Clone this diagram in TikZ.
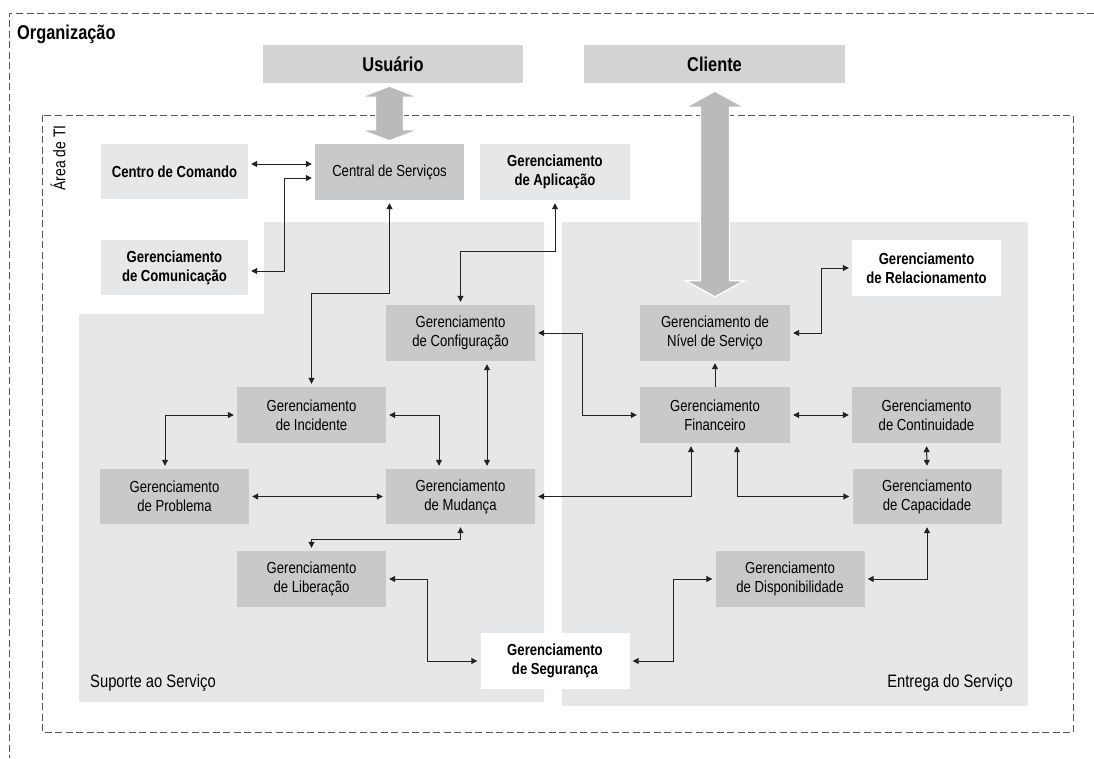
\documentclass[tikz,border=0pt]{standalone}
\usepackage{fontspec}
\setmainfont{Liberation Sans}[FakeStretch=0.82]
\usetikzlibrary{arrows.meta,calc}

\definecolor{regiongray}{HTML}{E6E7E8}
\definecolor{boxdark}{HTML}{C8C9CB}
\definecolor{boxlight}{HTML}{E6E7E8}
\definecolor{titlegray}{HTML}{D1D3D4}
\definecolor{arrowgray}{HTML}{B9BABC}
\definecolor{linegray}{HTML}{222222}
\definecolor{dashgray}{HTML}{555555}

\tikzset{
  box/.style={rectangle, minimum width=149pt, minimum height=56pt, inner sep=0pt,
    align=center, font=\fontsize{16}{19}\selectfont},
  darkbox/.style={box, fill=boxdark},
  lightbox/.style={box, fill=boxlight, font=\fontsize{16}{19}\selectfont\bfseries},
  whitebox/.style={box, fill=white, font=\fontsize{16}{19}\selectfont\bfseries},
  titlebox/.style={rectangle, fill=titlegray, minimum width=260pt, minimum height=38pt,
    inner sep=0pt, font=\fontsize{20}{24}\selectfont\bfseries},
  frame/.style={draw=dashgray, line width=1pt, dash pattern=on 7pt off 3.5pt},
  region/.style={fill=regiongray},
  dbl/.style={draw=linegray, line width=1pt,
    {Triangle[length=6pt,width=6pt]}-{Triangle[length=6pt,width=6pt]},
    shorten <=3pt, shorten >=3pt},
  arr/.style={draw=linegray, line width=1pt, -{Triangle[length=6pt,width=6pt]}, shorten >=2pt},
  bigarrow/.style={fill=arrowgray, draw=white, line width=1.2pt, line join=miter},
  areatext/.style={font=\fontsize{18}{22}\selectfont, inner sep=0pt},
}

% broad two-headed arrow: top tip, bottom tip, head half-width, shaft half-width, head length
\newcommand\bigdblarrow[5]{%
  \filldraw[bigarrow] (#1) -- ($(#1)+(#3,#5)$) -- ($(#1)+(#4,#5)$) -- ($(#2)+(#4,-#5)$)
    -- ($(#2)+(#3,-#5)$) -- (#2) -- ($(#2)+(-#3,-#5)$) -- ($(#2)+(-#4,-#5)$)
    -- ($(#1)+(-#4,#5)$) -- ($(#1)+(-#3,#5)$) -- cycle;}

\begin{document}
\begin{tikzpicture}[x=1pt, y=-1pt]
\useasboundingbox (0,0) rectangle (1094,758);

% service areas
\path[region] (264,222) -- (544,222) -- (544,702) -- (79,702) -- (79,314) -- (264,314) -- cycle;
\path[region] (562,222) rectangle (1028,706);

% organisation and IT frames
\draw[frame] (1094,13) -- (9,13) -- (9,758);
\draw[frame] (42,115) rectangle (1073,732);

\node[anchor=base west, inner sep=0pt, font=\fontsize{20}{24}\selectfont\bfseries] (org) at (17,39) {Organização};
\node[rotate=90, inner sep=0pt, font=\fontsize{17}{20}\selectfont] (ti) at (58,158) {Área de TI};
\node[areatext, anchor=west] (sup) at (90,683) {Suporte ao Serviço};
\node[areatext, anchor=east] (ent) at (1013,683) {Entrega do Serviço};

% top actors
\node[titlebox] (usr) at (393,64) {Usuário};
\node[titlebox, minimum width=261pt] (cli) at (714.5,64) {Cliente};

% processes
\node[lightbox, minimum width=147pt, minimum height=55pt] (cc) at (174.5,171.5) {Centro de Comando};
\node[darkbox] (cs) at (389.5,172) {Central de Serviços};
\node[lightbox, minimum width=150pt] (app) at (555,172) {Gerenciamento\\de Aplicação};
\node[lightbox, minimum width=147pt, minimum height=55pt] (com) at (174.5,267.5) {Gerenciamento\\de Comunicação};
\node[whitebox] (rel) at (926.5,268) {Gerenciamento\\de Relacionamento};

\node[darkbox] (cfg) at (460.5,333) {Gerenciamento\\de Configuração};
\node[darkbox, minimum width=150pt] (niv) at (715,333) {Gerenciamento de\\Nível de Serviço};
\node[darkbox] (inc) at (311.5,415) {Gerenciamento\\de Incidente};
\node[darkbox, minimum width=150pt] (fin) at (715,415) {Gerenciamento\\Financeiro};
\node[darkbox] (con) at (926.5,415) {Gerenciamento\\de Continuidade};
\node[darkbox, minimum height=55pt] (prb) at (174.5,496.5) {Gerenciamento\\de Problema};
\node[darkbox, minimum height=55pt] (mud) at (460.5,496.5) {Gerenciamento\\de Mudança};
\node[darkbox, minimum height=55pt] (cap) at (927,496.5) {Gerenciamento\\de Capacidade};
\node[darkbox] (lib) at (311.5,579) {Gerenciamento\\de Liberação};
\node[darkbox] (dis) at (790,579) {Gerenciamento\\de Disponibilidade};
\node[whitebox] (seg) at (555,661) {Gerenciamento\\de Segurança};

% broad arrows to the actors
\coordinate (ut) at ($(cs.north |- usr.south)+(0,3)$);
\coordinate (ub) at ($(cs.north)+(0,-3)$);
\bigdblarrow{ut}{ub}{28.5}{14}{11}
\coordinate (ct) at ($(niv.north |- cli.south)+(0,8)$);
\coordinate (cb) at ($(niv.north)+(0,-8)$);
\bigdblarrow{ct}{cb}{29}{14.5}{16}

% connectors
\draw[dbl] (cc.east |- 0,164) -- (cs.west |- 0,164);
\draw[dbl] (com.east |- 0,271) -| (284,178) -- (cs.west |- 0,178);
\draw[dbl] (cs.south) |- (inc.north |- 0,293) -- (inc.north);
\draw[dbl] (app.south) |- (cfg.north |- 0,251) -- (cfg.north);
\draw[dbl] (rel.west) -| (niv.east -| 821,0) -- (niv.east);
\draw[dbl] (cfg.east) -| (582,0 |- fin.west) -- (fin.west);
\draw[arr] (fin.north) -- (niv.south);
\draw[dbl] (fin.east) -- (con.west);
\draw[dbl] (con.south) -- (cap.north);
\draw[dbl] (mud.east) -| (fin.south -| 691,0);
\draw[dbl] (fin.south -| 737,0) |- (cap.west);
\draw[dbl] (cap.south) |- (dis.east);
\draw[dbl] (dis.west) -| (seg.east -| 673,0) -- (seg.east);
\draw[dbl] (lib.east) -| (seg.west -| 427,0) -- (seg.west);
\draw[dbl] (mud.south) |- (lib.north |- 0,539) -- (lib.north);
\draw[dbl] (inc.west) -| (prb.north -| 165,0);
\draw[dbl] (inc.east) -| (mud.north -| 439,0);
\draw[dbl] (prb.east) -- (mud.west);
\draw[dbl] (cfg.south -| 487,0) -- (mud.north -| 487,0);
\end{tikzpicture}
\end{document}
